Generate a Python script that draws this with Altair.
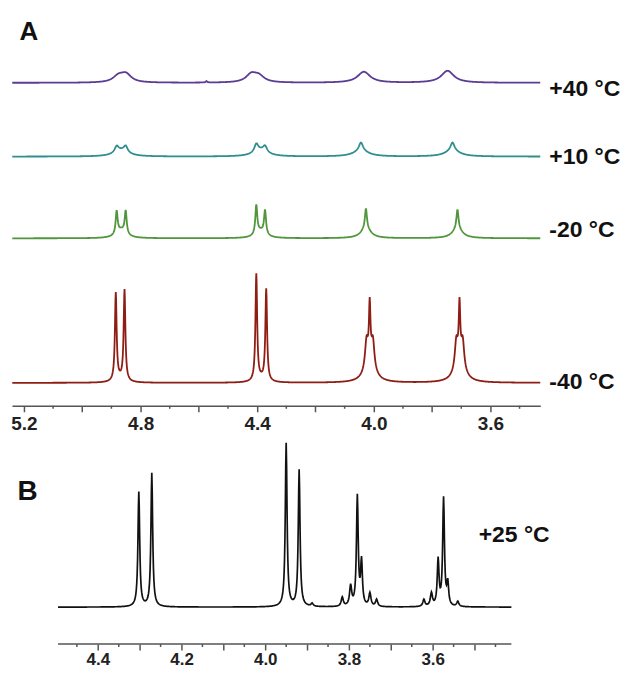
import altair as alt
import numpy as np
import pandas as pd

# ---------------- Panel A: peak lists (centre ppm, height, half-width ppm) -------------
temps_A = ["+40 °C", "+10 °C", "-20 °C", "-40 °C"]
colors_A = ["#5B3C94", "#2F8E8E", "#4F963C", "#8E1E14"]

purple_c = [4.876, 4.850, 4.420, 4.394, 4.034, 3.747, 4.574]
purple_h = [6, 8, 8, 6, 11, 12, 1.5]
purple_w = [0.022, 0.022, 0.022, 0.022, 0.026, 0.026, 0.003]

teal_c = [4.882, 4.851, 4.866, 4.403, 4.373, 4.388, 4.044, 4.044, 3.730, 3.730]
teal_h = [6, 6, 6, 8, 6, 6, 8, 6, 8, 6]
teal_w = [0.008, 0.008, 0.03, 0.008, 0.008, 0.03, 0.008, 0.03, 0.008, 0.03]

green_c = [4.882, 4.851, 4.866, 4.403, 4.373, 4.388, 4.027, 4.027, 3.713, 3.713]
green_h = [23, 23, 8, 29, 24, 7, 20, 10, 19, 10]
green_w = [0.004, 0.004, 0.02, 0.004, 0.004, 0.02, 0.004, 0.02, 0.004, 0.02]

red_c = [4.885, 4.855, 4.870, 4.403, 4.369, 4.386,
         4.014, 4.025, 4.003, 4.014, 3.706, 3.717, 3.695, 3.706]
red_h = [88, 91, 3, 107, 92, 3, 54, 26, 26, 20, 54, 26, 26, 20]
red_w = [0.0035, 0.0035, 0.02, 0.0035, 0.0035, 0.02,
         0.003, 0.006, 0.006, 0.02, 0.003, 0.006, 0.006, 0.02]

# vertical stacking offsets of the four traces
offsets_A = [324, 250, 168, 23]
label_y_A = [318, 250, 176, 24]

# ---------------- Panel B -------------
black_c = [4.302, 4.271, 3.950, 3.919, 3.888, 3.816, 3.796, 3.780, 3.770, 3.750,
           3.734, 3.621, 3.603, 3.587, 3.574, 3.564, 3.540]
black_h = [115, 134, 164, 137, 3, 9, 20, 110, 44, 13, 7, 7, 13, 46, 108, 22, 5]
black_w = [0.0025, 0.0025, 0.0025, 0.0025, 0.003, 0.003, 0.003, 0.0025, 0.0025, 0.003,
           0.003, 0.003, 0.003, 0.0025, 0.0025, 0.0025, 0.003]
offset_B = 37

# axes
A_lo, A_hi = 3.429, 5.241
B_lo, B_hi = 3.343, 4.605
B_line_lo, B_line_hi = 3.412, 4.495
major_A = [5.2, 5.0, 4.8, 4.6, 4.4, 4.2, 4.0, 3.8, 3.6]
minor_A = [5.1, 4.9, 4.7, 4.5, 4.3, 4.1, 3.9, 3.7, 3.5]
major_B = [4.4, 4.3, 4.2, 4.1, 4.0, 3.9, 3.8, 3.7, 3.6, 3.5]
minor_B = [4.45, 4.35, 4.25, 4.15, 4.05, 3.95, 3.85, 3.75, 3.65, 3.55, 3.45]

W = 530
H_A = 396
H_B = 207
FONT = "Liberation Sans"
AXC = "#555555"


def spectrum(cs, hs, ws, lo, hi):
    grid = np.unique(np.concatenate([np.arange(lo, hi, 0.001), np.array(cs)]))
    grid = grid[(grid >= lo) & (grid <= hi)]
    y = np.zeros_like(grid)
    for c, h, w in zip(cs, hs, ws):
        y += h / (1.0 + ((grid - c) / w) ** 2)
    return grid, y


peaks_A = [(purple_c, purple_h, purple_w), (teal_c, teal_h, teal_w),
           (green_c, green_h, green_w), (red_c, red_h, red_w)]
rows = []
for t, (cs, hs, ws), off in zip(temps_A, peaks_A, offsets_A):
    g, y = spectrum(cs, hs, ws, A_lo, A_hi)
    rows.append(pd.DataFrame({"ppm": np.round(g, 4), "y": np.round(y + off, 2), "trace": t}))
dfA = pd.concat(rows, ignore_index=True)

gB, yB = spectrum(black_c, black_h, black_w, B_line_lo, B_line_hi)
dfB = pd.DataFrame({"ppm": np.round(gB, 4), "y": np.round(yB + offset_B, 2)})

axis_common = dict(
    grid=False, tickColor=AXC, tickWidth=1.5, tickSize=6, labelFont=FONT, labelFontWeight="bold",
    labelColor="#222222", labelFlush=False, labelOverlap=False, title=None,
)

axisA = alt.Axis(
    values=major_A,
    labelExpr="round(datum.value*10) % 4 == 0 ? format(datum.value, '.1f') : ''",
    domainColor=AXC, domainWidth=1.5, labelPadding=3, labelFontSize=19, **axis_common,
)
axisB = alt.Axis(
    values=major_B,
    labelExpr="round(datum.value*10) % 2 == 0 ? format(datum.value, '.1f') : ''",
    domain=False, labelPadding=2, labelFontSize=17, **axis_common,
)

scaleA = alt.Scale(domain=[A_lo, A_hi], reverse=True, nice=False, zero=False)
xA = alt.X("ppm:Q", scale=scaleA, axis=axisA)
yA = alt.Y("y:Q", scale=alt.Scale(domain=[0, H_A], nice=False, zero=False), axis=None)

linesA = alt.Chart(dfA).mark_line(strokeWidth=1.8).encode(
    x=xA, y=yA,
    color=alt.Color("trace:N", scale=alt.Scale(domain=temps_A, range=colors_A), legend=None),
)

minorA = alt.Chart(pd.DataFrame({"t": minor_A})).mark_rule(color=AXC, strokeWidth=1.5).encode(
    x="t:Q", y=alt.value(H_A), y2=alt.value(H_A + 3)
)

labA = pd.DataFrame({"label": temps_A, "lx": [3.398] * 4, "ly": label_y_A})
textA = alt.Chart(labA).mark_text(
    align="left", baseline="middle", font=FONT, fontWeight="bold", fontSize=23, color="#111111"
).encode(x="lx:Q", y="ly:Q", text="label:N")

letterA = alt.Chart(pd.DataFrame({"label": ["A"], "lx": [5.183], "ly": [375]})).mark_text(
    align="center", baseline="middle", font=FONT, fontWeight="bold", fontSize=26, color="#111111"
).encode(x="lx:Q", y="ly:Q", text="label:N")

chartA = alt.layer(linesA, minorA, textA, letterA).properties(width=W, height=H_A)

scaleB = alt.Scale(domain=[B_lo, B_hi], reverse=True, nice=False, zero=False)
xB = alt.X("ppm:Q", scale=scaleB, axis=axisB)
yB_enc = alt.Y("y:Q", scale=alt.Scale(domain=[0, H_B], nice=False, zero=False), axis=None)

lineB = alt.Chart(dfB).mark_line(strokeWidth=1.7, color="#111111").encode(x=xB, y=yB_enc)

axis_line_B = alt.Chart(pd.DataFrame({"a": [B_line_hi], "b": [B_line_lo]})).mark_rule(
    color=AXC, strokeWidth=1.5
).encode(x="a:Q", x2="b:Q", y=alt.datum(0))

minorB = alt.Chart(pd.DataFrame({"t": minor_B})).mark_rule(color=AXC, strokeWidth=1.5).encode(
    x="t:Q", y=alt.value(H_B), y2=alt.value(H_B + 3)
)

letterB = alt.Chart(pd.DataFrame({"label": ["B"], "lx": [4.568], "ly": [152]})).mark_text(
    align="center", baseline="middle", font=FONT, fontWeight="bold", fontSize=28, color="#111111"
).encode(x="lx:Q", y="ly:Q", text="label:N")
tempB = alt.Chart(pd.DataFrame({"label": ["+25 °C"], "lx": [3.490], "ly": [109]})).mark_text(
    align="left", baseline="middle", font=FONT, fontWeight="bold", fontSize=23, color="#111111"
).encode(x="lx:Q", y="ly:Q", text="label:N")

chartB = alt.layer(lineB, axis_line_B, minorB, letterB, tempB).properties(width=W, height=H_B)

chart = alt.vconcat(chartA, chartB, spacing=4).properties(
    padding={"left": 0, "top": 2, "right": 0, "bottom": 0}
).configure(font=FONT, background="white").configure_view(stroke=None)

chart.save("out.html", embed_options={"renderer": "svg", "actions": False})
